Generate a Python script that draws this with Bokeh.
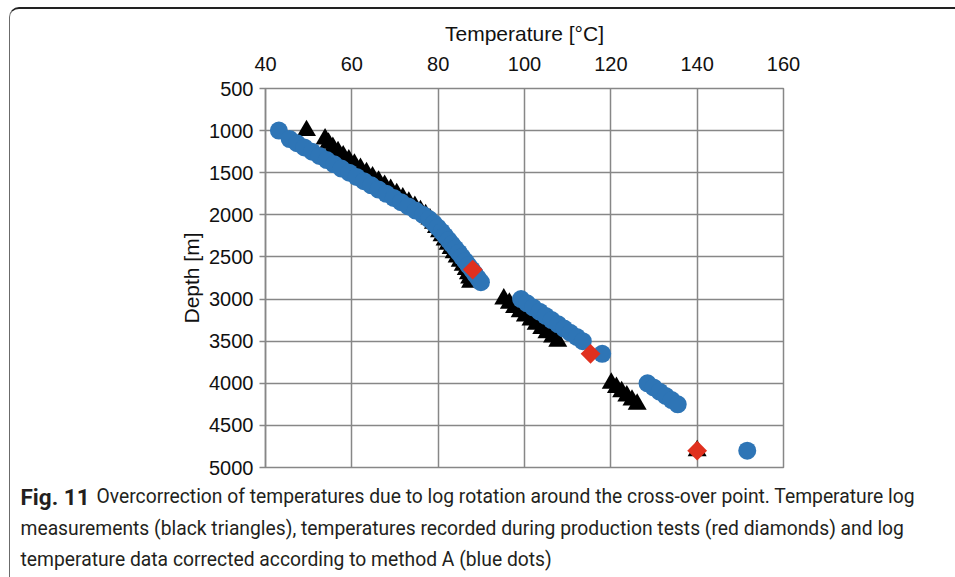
import numpy as np
from bokeh.plotting import figure
from bokeh.layouts import column
from bokeh.models import FixedTicker, Range1d
from bokeh.core.properties import value
from bokeh.embed import file_html
from bokeh.resources import INLINE

# ---- data ----
# Temperature log measurements (black triangles)
log_depth = [1000, 1100, 1150, 1200, 1250, 1300, 1350, 1400, 1450, 1500, 1550, 1600,
             1650, 1700, 1750, 1800, 1850, 1900, 1950, 2000, 2050, 2100, 2150, 2200,
             2250, 2300, 2350, 2400, 2450, 2500, 2550, 2600, 2650, 2700, 2750, 2800,
             3000, 3050, 3100, 3150, 3200, 3250, 3300, 3350, 3400, 3450, 3500,
             4000, 4050, 4100, 4150, 4200, 4250,
             4800]
log_temp = [49.5, 53.8, 54.6, 55.6, 56.8, 58.0, 59.3, 60.6, 62.0, 63.4, 64.8, 66.2,
            67.6, 69.0, 70.4, 71.8, 73.2, 74.6, 75.9, 77.1, 78.1, 78.9, 79.6, 80.3,
            80.9, 81.6, 82.3, 83.0, 83.7, 84.4, 85.1, 85.8, 86.5, 87.0, 87.3, 87.5,
            95.2, 96.5, 97.7, 99.0, 100.2, 101.5, 102.7, 104.0, 105.2, 106.5, 107.7,
            120.1, 121.3, 122.5, 123.7, 124.9, 126.1,
            140.0]

# Log temperature corrected according to method A (blue dots)
corr_depth = [1000, 1100, 1150, 1200, 1250, 1300, 1350, 1400, 1450, 1500, 1550, 1600,
              1650, 1700, 1750, 1800, 1850, 1900, 1950, 2000, 2050, 2100, 2150, 2200,
              2250, 2300, 2350, 2400, 2450, 2500, 2550, 2600, 2650, 2700, 2750, 2800,
              3000, 3050, 3100, 3150, 3200, 3250, 3300, 3350, 3400, 3450, 3500,
              3650,
              4000, 4050, 4100, 4150, 4200, 4250,
              4800]
corr_temp = [43.1, 45.6, 47.3, 49.0, 50.8, 52.5, 54.2, 55.9, 57.6, 59.4, 61.1, 62.8,
             64.5, 66.2, 68.0, 69.7, 71.4, 73.1, 74.8, 76.5, 77.9, 79.0, 79.9, 80.8,
             81.6, 82.4, 83.2, 84.0, 84.8, 85.5, 86.3, 87.0, 87.8, 88.5, 89.2, 89.9,
             99.2, 100.6, 102.0, 103.5, 104.9, 106.3, 107.8, 109.2, 110.6, 112.1, 113.5,
             118.0,
             128.5, 129.9, 131.3, 132.7, 134.1, 135.5,
             151.6]

# Temperatures recorded during production tests (red diamonds)
test_depth = [2650, 3650, 4800]
test_temp = [88.0, 115.3, 140.0]

x_ticks = [40, 60, 80, 100, 120, 140, 160]
y_ticks = [500, 1000, 1500, 2000, 2500, 3000, 3500, 4000, 4500, 5000]

caption_bold = "Fig. 11"
caption_lines = [
    "Overcorrection of temperatures due to log rotation around the cross-over point. Temperature log",
    "measurements (black triangles), temperatures recorded during production tests (red diamonds) and log",
    "temperature data corrected according to method A (blue dots)",
]

GRID = "#878787"
TXT = "#111111"
AXFONT = "Liberation Sans"

# the whole figure sits inside a frame starting at x=9, y=7 (1px left, 2px top border)
FW = 945          # width of the content inside the frame
CHART_H = 471
CAP_H = 97

p = figure(width=FW, height=CHART_H, output_backend="svg", toolbar_location=None,
           x_range=Range1d(40, 160), y_range=Range1d(5000, 500),
           x_axis_location="above",
           min_border_left=255, min_border_right=172,
           min_border_top=79, min_border_bottom=13)
p.frame_align = False
p.background_fill_color = None
p.border_fill_color = None
p.outline_line_color = GRID
p.outline_line_width = 1.5

p.xaxis.ticker = FixedTicker(ticks=x_ticks)
p.yaxis.ticker = FixedTicker(ticks=y_ticks)
p.xgrid.ticker = FixedTicker(ticks=x_ticks)
p.ygrid.ticker = FixedTicker(ticks=y_ticks)
p.grid.grid_line_color = GRID
p.grid.grid_line_width = 1.5
p.xaxis.minor_tick_line_color = None
p.yaxis.minor_tick_line_color = None

p.xaxis.axis_label = "Temperature [°C]"
p.yaxis.axis_label = "Depth [m]"
for ax in (p.xaxis, p.yaxis):
    ax.axis_label_text_font = AXFONT
    ax.axis_label_text_font_size = "21px"
    ax.axis_label_text_font_style = "normal"
    ax.axis_label_text_color = TXT
    ax.major_label_text_font = AXFONT
    ax.major_label_text_font_size = "20px"
    ax.major_label_text_color = TXT

p.xaxis.axis_line_color = None
p.xaxis.major_tick_line_color = None
p.xaxis.major_tick_out = 0
p.xaxis.major_tick_in = 0
p.xaxis.major_label_standoff = 18
p.xaxis.axis_label_standoff = 9

p.yaxis.axis_line_color = GRID
p.yaxis.axis_line_width = 1.5
p.yaxis.major_tick_line_color = GRID
p.yaxis.major_tick_line_width = 1.5
p.yaxis.major_tick_out = 6
p.yaxis.major_tick_in = 0
p.yaxis.major_label_standoff = 6
p.yaxis.axis_label_standoff = 3

p.scatter(log_temp, log_depth, marker="triangle", size=19,
          fill_color="black", line_color=None)
p.scatter(corr_temp, corr_depth, marker="circle", size=18,
          fill_color="#2E75B6", line_color=None)
p.scatter(test_temp, test_depth, marker="square", angle=np.pi / 4, size=14,
          fill_color="#E0301E", line_color=None)

# ---- caption below the chart (its own canvas, pixel coordinates, y downwards) ----
cap = figure(width=FW, height=CAP_H, output_backend="svg", toolbar_location=None,
             x_range=Range1d(0, FW), y_range=Range1d(CAP_H, 0),
             x_axis_location=None, y_axis_location=None,
             min_border=0)
cap.frame_align = False
cap.grid.visible = False
cap.outline_line_color = None
cap.background_fill_color = None
cap.border_fill_color = None

cap.text(x=[10], y=[16], text=[caption_bold], text_font=value("Roboto"),
         text_font_style="bold", text_font_size="22.5px", text_color="#231f20",
         text_baseline="middle", text_align="left")
cap.text(x=[86, 10, 10], y=[16, 48, 79], text=caption_lines,
         text_font=value("Roboto"), text_font_size="19.3px", text_color="#231f20",
         text_baseline="middle", text_align="left")

layout = column(p, cap, spacing=0, margin=(7, 0, 0, 9),
                styles={"border-top": "2px solid #222222",
                        "border-left": "1px solid #6b6b6b",
                        "border-top-left-radius": "10px"})

open("out.html", "w").write(file_html(layout, INLINE))
